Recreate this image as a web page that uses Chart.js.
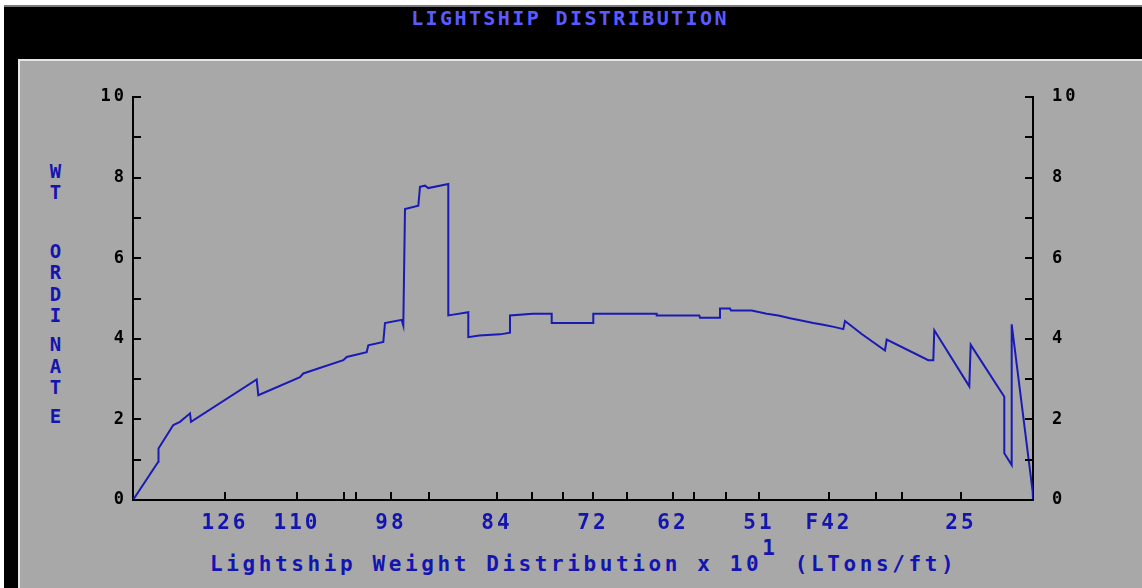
<!DOCTYPE html>
<html lang="en">
<head>
  <meta charset="UTF-8">
  <title>Lightship Distribution</title>
  <script src="https://cdn.jsdelivr.net/npm/chart.js"></script>
  <style>
    html, body { margin: 0; padding: 0; }
    body {
      width: 1142px; height: 588px;
      position: relative; overflow: hidden;
      background: #ffffff;
      font-family: "DejaVu Sans Mono", monospace;
    }
    #screen {
      position: absolute; left: 4px; top: 5px; right: 0; bottom: 0;
      background: #000000;
      border-top: 2px solid #7a7a7a;
    }
    #title {
      position: absolute; top: 6px; left: 0; width: 1140px;
      text-align: center; color: #5a5aff;
      font-size: 20px; font-weight: bold; letter-spacing: 2.4px;
    }
    #panel {
      position: absolute; left: 18px; top: 59px; right: 0; bottom: 0;
      background: #a8a8a8;
      border-top: 2px solid #e6e6e6;
      border-left: 2px solid #e6e6e6;
    }
    .yl {
      position: absolute; left: 45px; width: 21px;
      text-align: center; color: #1414b0;
      font-size: 19px; font-weight: bold;
    }
    #xtitle {
      position: absolute; left: 210px; top: 552px;
      color: #1414b0; font-size: 21px; font-weight: bold;
      letter-spacing: 3.6px; white-space: pre;
    }
    #xtitle span { position: relative; top: -16px; }
    #wrap { position: absolute; left: 0; top: 0; width: 1142px; height: 588px; }
  </style>
</head>
<body>
  <div id="screen"></div>
  <div id="title">LIGHTSHIP DISTRIBUTION</div>
  <div id="panel"></div>

  <!-- stacked y axis title -->
  <div class="yl" style="top:160px">W</div>
  <div class="yl" style="top:181px">T</div>
  <div class="yl" style="top:240px">O</div>
  <div class="yl" style="top:261px">R</div>
  <div class="yl" style="top:283px">D</div>
  <div class="yl" style="top:304px">I</div>
  <div class="yl" style="top:333px">N</div>
  <div class="yl" style="top:355px">A</div>
  <div class="yl" style="top:376px">T</div>
  <div class="yl" style="top:405px">E</div>

  <div id="xtitle">Lightship Weight Distribution x 10<span>1</span> (LTons/ft)</div>

  <div id="wrap"><canvas id="lightChart" width="1142" height="588"></canvas></div>

  <script>
    // position along the ship (0 = left end of plot, 900 = right end)
    const stationX = [
      0, 25.3, 25.5, 40.3, 47, 57, 58, 123.7, 125.3, 167, 170.3, 210.3, 213.7, 233.7, 235.3,
      250.3, 252, 268.7, 270.3, 272, 285.3, 287, 292, 295.3, 315.3, 315.3, 320.3, 335.3, 335.3,
      346.3, 367, 377, 377, 399.7, 418.7, 418.7, 460.3, 460.3, 523.7, 523.7, 566.3, 567, 587,
      587, 597, 598, 618.7, 633.7, 645.3, 657, 667, 680.3, 690.3, 702, 710.3, 712, 728.7, 752,
      753.7, 795.3, 800.3, 801.3, 836.3, 837.7, 871.3, 871.3, 878.7, 878.7, 899.7, 900
    ];
    // weight ordinate
    const wtOrdinate = [
      0, 0.95, 1.28, 1.86, 1.94, 2.15, 1.94, 2.99, 2.6, 3.05, 3.14, 3.47, 3.55, 3.67, 3.84,
      3.92, 4.39, 4.47, 4.33, 7.22, 7.3, 7.77, 7.8, 7.74, 7.84, 4.58, 4.6, 4.66, 4.04,
      4.08, 4.11, 4.15, 4.58, 4.62, 4.62, 4.39, 4.39, 4.62, 4.62, 4.58, 4.58, 4.52, 4.52,
      4.75, 4.75, 4.70, 4.70, 4.62, 4.58, 4.51, 4.46, 4.39, 4.35, 4.29, 4.24, 4.44, 4.12, 3.71,
      3.98, 3.47, 3.47, 4.21, 2.82, 3.85, 2.56, 1.16, 0.87, 4.36, 0.2, 0
    ];
    // frame tick marks and their labels ('' = tick only)
    const frameTickPos = [92, 164, 211, 223, 258, 296, 364, 399, 430, 460, 494, 540, 561, 593, 626, 696, 743, 769, 828];
    const frameTickLabels = ['126', '110', '', '', '98', '', '84', '', '', '72', '', '62', '', '', '51', 'F42', '', '', '25'];
    const yMin = 0, yMax = 10, yStep = 1, yLabelEvery = 2;

    const blue = '#1414b0';

    // ticks point into the plot, so draw them from the scales ourselves
    const innerTicks = {
      id: 'innerTicks',
      beforeDraw(chart) { chart.ctx.letterSpacing = '3px'; },
      afterDraw(chart) {
        const { ctx, chartArea, scales } = chart;
        ctx.save();
        ctx.strokeStyle = '#000';
        ctx.lineWidth = 2;
        ctx.beginPath();
        scales.y.ticks.forEach(t => {
          const py = Math.round(scales.y.getPixelForValue(t.value));
          ctx.moveTo(chartArea.left, py);
          ctx.lineTo(chartArea.left + 8, py);
        });
        scales.y2.ticks.forEach(t => {
          const py = Math.round(scales.y2.getPixelForValue(t.value));
          ctx.moveTo(chartArea.right, py);
          ctx.lineTo(chartArea.right - 8, py);
        });
        scales.x.ticks.forEach(t => {
          const px = Math.round(scales.x.getPixelForValue(t.value));
          ctx.moveTo(px, chartArea.bottom);
          ctx.lineTo(px, chartArea.bottom - 8);
        });
        ctx.stroke();
        ctx.restore();
      }
    };

    const yTickOpts = (pad) => ({
      stepSize: yStep,
      color: '#000',
      padding: pad,
      font: { family: 'DejaVu Sans Mono', size: 17, weight: 'bold' },
      callback: v => (v % yLabelEvery === 0 ? String(v) : '')
    });

    new Chart(document.getElementById('lightChart'), {
      type: 'line',
      data: {
        datasets: [{
          data: stationX.map((x, i) => ({ x: x, y: wtOrdinate[i] })),
          borderColor: '#1a1ab4',
          borderWidth: 2,
          pointRadius: 0,
          tension: 0,
          fill: false,
          yAxisID: 'y'
        }]
      },
      options: {
        responsive: false,
        animation: false,
        devicePixelRatio: 1,
        layout: { padding: { top: 97, left: 0, right: 0, bottom: 0 } },
        plugins: { legend: { display: false }, tooltip: { enabled: false } },
        scales: {
          x: {
            type: 'linear',
            min: 0,
            max: 900,
            afterFit: s => { s.height = 88; },
            afterBuildTicks: s => { s.ticks = frameTickPos.map(v => ({ value: v })); },
            grid: { display: true, drawOnChartArea: false, drawTicks: false },
            border: { display: true, color: '#000', width: 2 },
            ticks: {
              autoSkip: false,
              maxRotation: 0,
              padding: 11,
              color: blue,
              font: { family: 'DejaVu Sans Mono', size: 21, weight: 'bold' },
              callback: (v, i) => frameTickLabels[i]
            }
          },
          y: {
            position: 'left',
            min: yMin,
            max: yMax,
            afterFit: s => { s.width = 133; },
            grid: { display: true, drawOnChartArea: false, drawTicks: false },
            border: { display: true, color: '#000', width: 2 },
            ticks: yTickOpts(6)
          },
          y2: {
            position: 'right',
            min: yMin,
            max: yMax,
            afterFit: s => { s.width = 109; },
            grid: { display: true, drawOnChartArea: false, drawTicks: false },
            border: { display: true, color: '#000', width: 2 },
            ticks: yTickOpts(19)
          }
        }
      },
      plugins: [innerTicks]
    });
  </script>
</body>
</html>
